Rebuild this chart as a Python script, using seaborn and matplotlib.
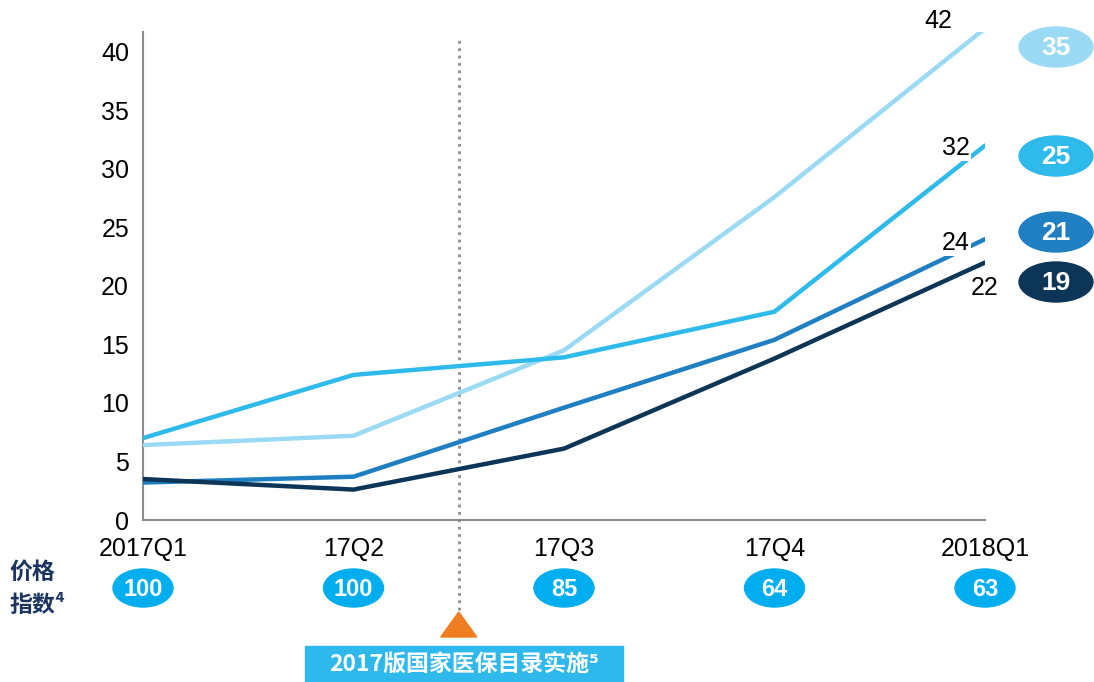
import matplotlib
matplotlib.use("Agg")
import matplotlib.pyplot as plt
from matplotlib.patches import Ellipse, Polygon, Rectangle
import seaborn as sns
import pandas as pd

# chart data
quarters = ["2017Q1", "17Q2", "17Q3", "17Q4", "2018Q1"]
series_names = ["35", "25", "21", "19"]
light_vals = [6.4, 7.2, 14.5, 27.6, 42]
sky_vals = [7.0, 12.4, 13.9, 17.8, 32]
mid_vals = [3.2, 3.7, 9.6, 15.4, 24]
dark_vals = [3.5, 2.6, 6.1, 13.8, 22]
price_index = [100, 100, 85, 64, 63]
colors = ["#9BDAF5", "#2FBAEC", "#1F7FC3", "#0C3558"]

W, H = 1094, 682
sns.set_style("white")
plt.rcParams["font.family"] = ["Liberation Sans", "Noto Sans CJK SC", "DejaVu Sans"]
plt.rcParams["text.color"] = "black"
plt.rcParams["xtick.labelcolor"] = "black"
plt.rcParams["ytick.labelcolor"] = "black"
cjk = ["Noto Sans CJK SC", "DejaVu Sans"]

rows = []
for name, vals in zip(series_names, [light_vals, sky_vals, mid_vals, dark_vals]):
    for i, v in enumerate(vals):
        rows.append({"x": i, "value": v, "series": name})
df = pd.DataFrame(rows)

fig = plt.figure(figsize=(W / 100, H / 100), dpi=100)
ax = fig.add_axes([143 / W, 1 - 520 / H, (985 - 143) / W, (520 - 32) / H])
sns.lineplot(data=df, x="x", y="value", hue="series", palette=colors,
             hue_order=series_names, linewidth=3.2, legend=False, ax=ax,
             zorder=3)
ax.set_xlim(0, len(quarters) - 1)
ax.set_ylim(0, 41.7)
ax.set_yticks(range(0, 41, 5))
ax.set_xticks(range(len(quarters)))
ax.set_xticklabels(quarters)
ax.set_xlabel("")
ax.set_ylabel("")
for s in ["top", "right"]:
    ax.spines[s].set_visible(False)
for s in ["left", "bottom"]:
    ax.spines[s].set_color("#8C8C8C")
    ax.spines[s].set_linewidth(1.5)
ax.tick_params(axis="y", direction="out", length=6, width=1.5, color="#8C8C8C",
               labelsize=18, pad=4, labelcolor="black")
ax.tick_params(axis="x", direction="in", length=8, width=1.5, color="#8C8C8C",
               labelsize=18, pad=12, labelcolor="black")

# end labels
ax.text(3.78, 42.6, "42", fontsize=18, ha="center", va="center", clip_on=False)
ax.text(3.862, sky_vals[-1] - 0.2, "32", fontsize=18, ha="center", va="center",
        zorder=4, bbox=dict(facecolor="white", edgecolor="none", pad=1.0))
ax.text(3.862, mid_vals[-1] - 0.3, "24", fontsize=18, ha="center", va="center",
        zorder=4, bbox=dict(facecolor="white", edgecolor="none", pad=1.0))
ax.text(4.0, dark_vals[-1] - 2.2, "22", fontsize=18, ha="center", va="center",
        clip_on=False)

# policy marker line
xv = 1.5
ax.plot([xv, xv], [-0.184, 0.988], transform=ax.get_xaxis_transform(),
        color="#8C8C8C", linestyle=":", linewidth=2, clip_on=False, zorder=1)

# overlay in pixel coordinates
ov = fig.add_axes([0, 0, 1, 1], zorder=5)
ov.set_xlim(0, W)
ov.set_ylim(H, 0)
ov.axis("off")
ov.patch.set_alpha(0)

def px(i):
    return ax.transData.transform((i, 0))[0]

for i, v in enumerate(price_index):
    x = px(i)
    ov.add_patch(Ellipse((x, 588), 60, 38, color="#00AEEF"))
    ov.text(x, 589, str(v), color="white", fontsize=17, fontweight="bold",
            ha="center", va="center")

right_y = [47, 156, 232, 282]
for c, name, y in zip(colors, series_names, right_y):
    ov.add_patch(Ellipse((1056, y), 74, 40, color=c))
    ov.text(1056, y + 1, name, color="white", fontsize=19, fontweight="bold",
            ha="center", va="center")

ov.text(9, 572, "价格", family=cjk, fontsize=16.5, fontweight="bold",
        color="#1B3560", ha="left", va="center")
ov.text(9, 605, "指数⁴", family=cjk, fontsize=16.5, fontweight="bold",
        color="#1B3560", ha="left", va="center")

xt = px(xv)
ov.add_patch(Polygon([(xt - 18, 637), (xt + 18, 637), (xt, 612)],
                     closed=True, color="#EF7D22"))
ov.add_patch(Rectangle((305, 646), 318, 36, color="#2FB8EC"))
ov.text(464, 664, "2017版国家医保目录实施⁵", family=cjk, fontsize=16.5,
        fontweight="bold", color="white", ha="center", va="center")

fig.savefig("out.png", dpi=100)
